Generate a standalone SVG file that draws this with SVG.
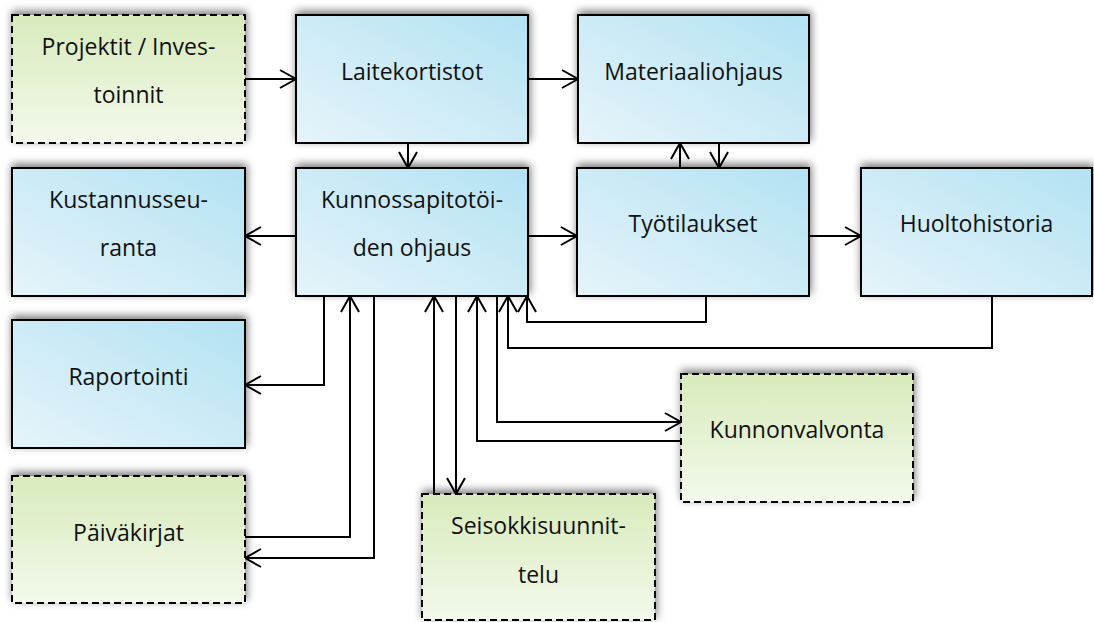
<svg xmlns="http://www.w3.org/2000/svg" width="1094" height="622" viewBox="0 0 1094 622">
  <defs>
    <linearGradient id="blueFill" x1="0" y1="1" x2="1" y2="0">
      <stop offset="0" stop-color="#e6f4fa"/>
      <stop offset="1" stop-color="#b3e2f3"/>
    </linearGradient>
    <linearGradient id="greenFill" x1="0" y1="0" x2="0" y2="1">
      <stop offset="0" stop-color="#d8ebbb"/>
      <stop offset="1" stop-color="#f3f9ec"/>
    </linearGradient>
    <filter id="shadow" x="-10%" y="-20%" width="120%" height="140%">
      <feDropShadow dx="1" dy="-3" stdDeviation="4" flood-color="#000" flood-opacity="0.55"/>
    </filter>
    <marker id="arrow" markerUnits="userSpaceOnUse" markerWidth="24" markerHeight="24" viewBox="-20 -12 24 24" refX="0" refY="0" orient="auto">
      <path d="M -16 -9 L 0 0 L -16 9" fill="none" stroke="#000" stroke-width="2"/>
    </marker>
  </defs>
  <style>
    .solid { fill: url(#blueFill); stroke: #000; stroke-width: 2; filter: url(#shadow); }
    .dashed { fill: url(#greenFill); stroke: #000; stroke-width: 2; stroke-dasharray: 7 4; filter: url(#shadow); }
    .label { font-family: "Open Sans", "Liberation Sans", sans-serif; font-size: 23px; fill: #111; text-anchor: middle; }
    .wire { fill: none; stroke: #000; stroke-width: 2; }
    .arrowed { marker-end: url(#arrow); }
  </style>

  <rect width="1094" height="622" fill="#fff"/>

  <!-- Connectors -->
  <g id="connectors">
    <path class="wire arrowed" d="M245,79 H296"/>
    <path class="wire arrowed" d="M528,79 H578"/>
    <path class="wire arrowed" d="M408,143 V168"/>
    <path class="wire arrowed" d="M680,168 V143"/>
    <path class="wire arrowed" d="M719,143 V168"/>
    <path class="wire arrowed" d="M528,236 H577"/>
    <path class="wire arrowed" d="M809,236 H861"/>
    <path class="wire arrowed" d="M296,236 H245"/>
    <path class="wire arrowed" d="M324,296 V385 H245"/>
    <path class="wire arrowed" d="M245,537 H350 V296"/>
    <path class="wire arrowed" d="M374,296 V558 H245"/>
    <path class="wire arrowed" d="M434,494 V296"/>
    <path class="wire arrowed" d="M456,296 V494"/>
    <path class="wire arrowed" d="M681,441 H477 V296"/>
    <path class="wire arrowed" d="M497,296 V422 H681"/>
    <path class="wire arrowed" d="M992,296 V348 H508 V296"/>
    <path class="wire arrowed" d="M706,296 V322 H527 V296"/>
  </g>

  <!-- Nodes -->
  <g id="projektit">
    <rect class="dashed" x="12" y="15" width="233" height="128"/>
    <text class="label" x="128.5" y="55">Projektit / Inves-</text>
    <text class="label" x="128.5" y="103">toinnit</text>
  </g>
  <g id="laitekortistot">
    <rect class="solid" x="296" y="15" width="232" height="128"/>
    <text class="label" x="412" y="80">Laitekortistot</text>
  </g>
  <g id="materiaaliohjaus">
    <rect class="solid" x="578" y="15" width="231" height="128"/>
    <text class="label" x="693.5" y="80">Materiaaliohjaus</text>
  </g>
  <g id="kustannusseuranta">
    <rect class="solid" x="12" y="168" width="233" height="128"/>
    <text class="label" x="128.5" y="208">Kustannusseu-</text>
    <text class="label" x="128.5" y="256">ranta</text>
  </g>
  <g id="kunnossapito">
    <rect class="solid" x="296" y="168" width="232" height="128"/>
    <text class="label" x="412" y="208">Kunnossapitotöi-</text>
    <text class="label" x="412" y="256">den ohjaus</text>
  </g>
  <g id="tyotilaukset">
    <rect class="solid" x="577" y="168" width="232" height="128"/>
    <text class="label" x="693" y="232">Työtilaukset</text>
  </g>
  <g id="huoltohistoria">
    <rect class="solid" x="861" y="168" width="231" height="128"/>
    <text class="label" x="976.5" y="232">Huoltohistoria</text>
  </g>
  <g id="raportointi">
    <rect class="solid" x="12" y="320" width="233" height="128"/>
    <text class="label" x="128.5" y="385">Raportointi</text>
  </g>
  <g id="paivakirjat">
    <rect class="dashed" x="12" y="476" width="233" height="127"/>
    <text class="label" x="128.5" y="541">Päiväkirjat</text>
  </g>
  <g id="seisokkisuunnittelu">
    <rect class="dashed" x="422" y="494" width="233" height="126"/>
    <text class="label" x="538.5" y="534">Seisokkisuunnit-</text>
    <text class="label" x="538.5" y="583">telu</text>
  </g>
  <g id="kunnonvalvonta">
    <rect class="dashed" x="681" y="374" width="232" height="128"/>
    <text class="label" x="797" y="438">Kunnonvalvonta</text>
  </g>
</svg>
